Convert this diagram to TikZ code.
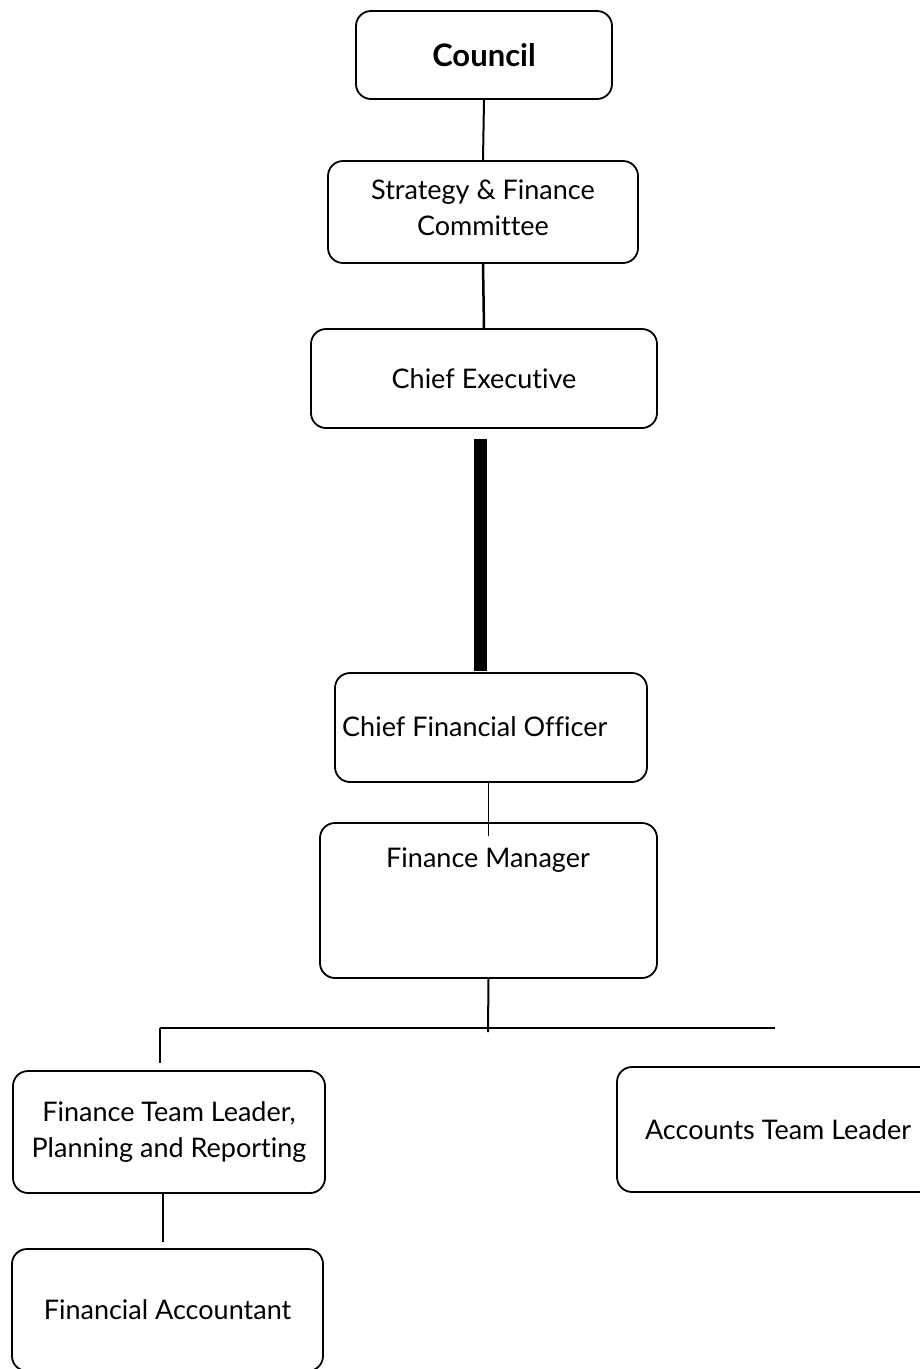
\documentclass[tikz,border=0pt]{standalone}
\usepackage{fontspec}
\setmainfont{Lato}[Ligatures=NoCommon]
\usetikzlibrary{calc}
\begin{document}
\begin{tikzpicture}[x=1pt,y=-1pt,
  box/.style={draw,line width=1.8pt,rounded corners=15pt,inner sep=0pt},
  lbl/.style={font=\fontsize{27}{36}\selectfont,align=center},
  conn/.style={line width=2pt}]
\useasboundingbox (0,0) rectangle (920,1369);
\clip (0,0) rectangle (920,1369);
% boxes
\node[box,lbl,minimum width=256pt,minimum height=88pt] (council) at (484,55) {\fontsize{31}{36}\selectfont\bfseries Council};
\node[box,lbl,minimum width=310pt,minimum height=102pt] (sfc) at (483,212) {};
\node[lbl,inner sep=0pt] (sfct) at (483,208) {Strategy \& Finance\\Committee};
\node[box,lbl,minimum width=346pt,minimum height=99pt] (ce) at (484,378.5) {Chief Executive};
\node[box,minimum width=312pt,minimum height=109pt] (cfo) at (491,727.5) {};
\node[lbl,anchor=west,inner sep=0pt] (cfot) at (342,727) {Chief Financial Officer};
\node[box,minimum width=337pt,minimum height=155pt] (fm) at (488.5,900.5) {};
\node[lbl,inner sep=0pt] (fmt) at (488,860) {Finance Manager};
\node[box,minimum width=312pt,minimum height=122pt] (ftl) at (169,1132) {};
\node[lbl,inner sep=0pt] (ftlt) at (169,1132) {Finance Team Leader,\\Planning and Reporting};
\node[box,lbl,minimum width=322pt,minimum height=125pt] (atl) at (778,1129.5) {Accounts Team Leader};
\node[box,lbl,minimum width=311pt,minimum height=122pt] (fa) at (167.5,1310) {Financial Accountant};
% connector end points
\coordinate (bartop) at (480.5,439);
\coordinate (barbot) at (480.5,671);
\coordinate (cfend) at (488,836);
\coordinate (junc) at (488,1032);
\coordinate (hl) at (160,1028);
\coordinate (hr) at (775,1028);
\coordinate (ldrop) at (160,1063);
\coordinate (faend) at (163,1242);
% connectors
\draw[conn] (council.south) -- (sfc.north);
\draw[line width=2.5pt] (sfc.south) -- (ce.north);
\draw[line width=13pt] (bartop) -- (barbot);
\draw[line width=1pt] (cfo.south -| cfend) -- (cfend);
\draw[conn] (fm.south) -- (junc);
\draw[conn] (hl) -- (hr);
\draw[conn] (hl) -- (ldrop);
\draw[conn] (ftl.south -| faend) -- (faend);
\end{tikzpicture}
\end{document}
